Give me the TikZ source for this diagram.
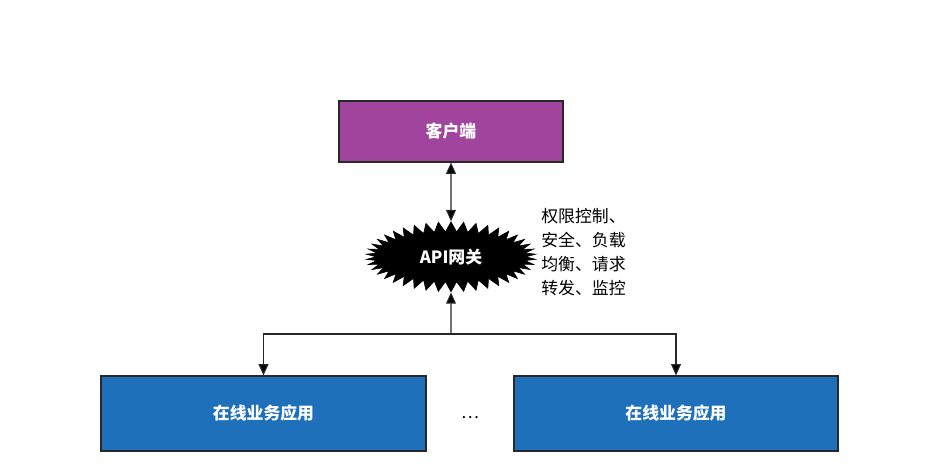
\documentclass[tikz,border=0pt]{standalone}
\usepackage{fontspec}
\setmainfont{Noto Sans CJK SC}
\usepackage{tikz}
\usetikzlibrary{arrows.meta,shapes.symbols,positioning}

\definecolor{clientpurple}{RGB}{160,68,158}
\definecolor{appblue}{RGB}{31,112,186}
\definecolor{linegray}{RGB}{40,40,40}

\tikzset{
  box/.style={draw=linegray,thick,text=white,font=\fontsize{12}{14}\selectfont\bfseries},
  link/.style={draw=linegray,thick,-{Triangle[length=8pt,width=7pt,fill=black]}},
}

\begin{document}
\begin{tikzpicture}
  \useasboundingbox (0,0) rectangle (23.5,11.9);
  \node[box,fill=clientpurple,minimum width=5.6cm,minimum height=1.525cm] (client) at (11.275,8.6125) {客户端};
  \node[starburst,fill=black,draw=black,text=white,minimum width=4.25cm,minimum height=1.75cm,
        starburst points=42,starburst point height=0.25cm,random starburst=0,
        font=\fontsize{12}{14}\selectfont\bfseries] (gateway) at (11.275,5.48) {API网关};
  \node[anchor=west,inner sep=0pt,align=left,font=\fontsize{12}{17}\selectfont] (duty) at (13.525,5.6)
    {权限控制、\\安全、负载\\均衡、请求\\转发、监控};
  \node[box,fill=appblue,minimum width=8.125cm,minimum height=1.875cm] (appA) at (6.5875,1.5625) {在线业务应用};
  \node[box,fill=appblue,minimum width=8.1cm,minimum height=1.875cm] (appB) at (16.9,1.5625) {在线业务应用};
  \node[font=\large] (dots) at (11.75,1.45) {\dots};

  \coordinate (fork) at (11.275,3.55);
  \draw[link,{Triangle[length=8pt,width=7pt,fill=black]}-{Triangle[length=8pt,width=7pt,fill=black]}] (client.south) -- (gateway.north);
  \draw[link] (fork) -- (gateway.south);
  \draw[link] (fork) -| (appA.north);
  \draw[link] (fork) -| (appB.north);
\end{tikzpicture}
\end{document}
